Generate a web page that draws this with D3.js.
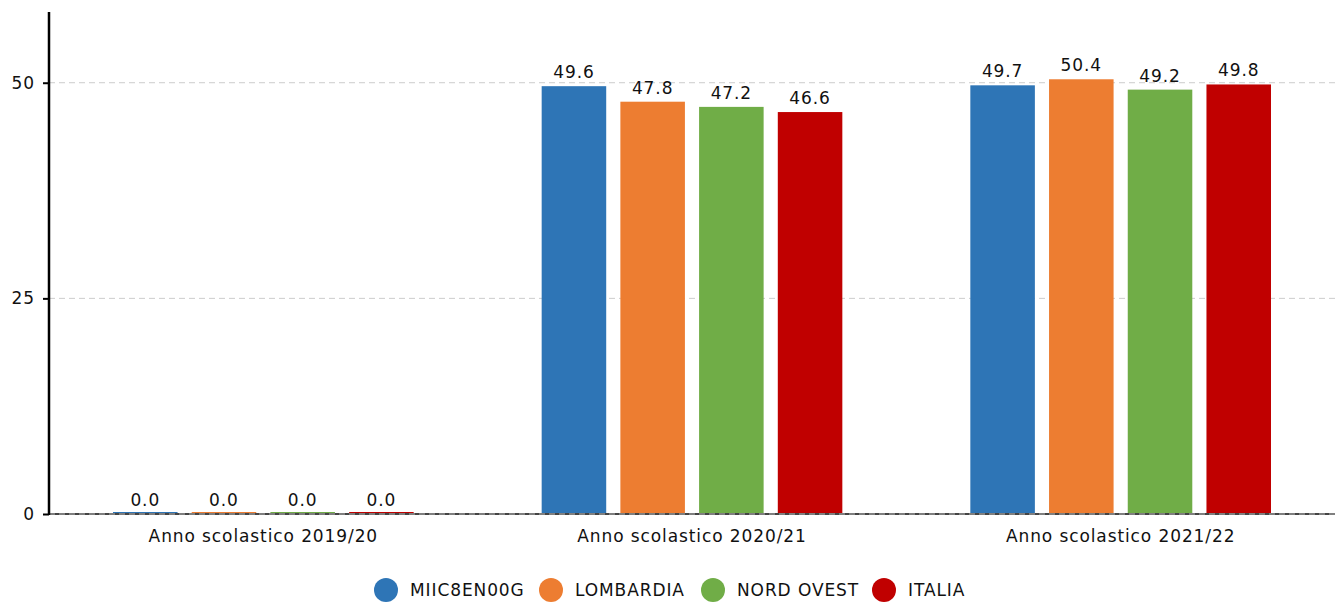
<!DOCTYPE html>
<html><head><meta charset="utf-8">
<script src="https://cdn.jsdelivr.net/npm/d3@7"></script>
<style>body{margin:0;background:#fff}svg{display:block}text{font-family:"DejaVu Sans",sans-serif}</style>
</head><body><svg id="c" width="1335" height="602"></svg>
<script>
const categories = ["Anno scolastico 2019/20","Anno scolastico 2020/21","Anno scolastico 2021/22"];
const seriesNames = ["MIIC8EN00G","LOMBARDIA","NORD OVEST","ITALIA"];
const seriesColors = ["#2e75b6","#ed7d31","#70ad47","#c00000"];
const MIIC8EN00G = [0.0, 49.6, 49.7];
const LOMBARDIA = [0.0, 47.8, 50.4];
const NORD_OVEST = [0.0, 47.2, 49.2];
const ITALIA = [0.0, 46.6, 49.8];
const yTicks = [0, 25, 50];
const values = [MIIC8EN00G, LOMBARDIA, NORD_OVEST, ITALIA];

const FS = 17, LS = "0.9px";
const svg = d3.select("#c");
const mLeft = 49, mRight = 1335, mTop = 12, mBottom = 514;
const y = d3.scaleLinear().domain([0, 58.2]).range([mBottom, mTop]);
const x0 = d3.scaleBand().domain(categories).range([mLeft, mRight]).padding(0);
const x1 = d3.scaleBand().domain(seriesNames).range([64, x0.bandwidth() - 64]).paddingInner(0.18);

// grid
svg.append("g").selectAll("line").data(yTicks.filter(d => d > 0)).join("line")
  .attr("x1", mLeft).attr("x2", mRight).attr("y1", d => y(d)).attr("y2", d => y(d))
  .attr("stroke", "#cccccc").attr("stroke-width", 1).attr("stroke-dasharray", "6,4");

// bars
const g = svg.append("g");
categories.forEach((c, ci) => {
  seriesNames.forEach((s, si) => {
    const v = values[si][ci];
    const bx = x0(c) + x1(s);
    const h = Math.max(mBottom - y(v), 2);
    g.append("rect").attr("x", bx).attr("y", mBottom - h).attr("width", x1.bandwidth()).attr("height", h)
      .attr("fill", seriesColors[si]);
    g.append("text").attr("x", bx + x1.bandwidth() / 2).attr("y", y(v) - 8)
      .attr("text-anchor", "middle").attr("font-size", FS).attr("letter-spacing", LS).attr("fill", "#111")
      .text(v.toFixed(1));
  });
});

// baseline
svg.append("line").attr("x1", mLeft).attr("x2", mRight).attr("y1", mBottom).attr("y2", mBottom)
  .attr("stroke", "#444").attr("stroke-width", 2);
svg.append("line").attr("x1", mLeft).attr("x2", mRight).attr("y1", mBottom).attr("y2", mBottom)
  .attr("stroke", "#bbbbbb").attr("stroke-width", 1).attr("stroke-dasharray", "6,4");

// y axis
const ya = svg.append("g").attr("transform", `translate(${mLeft},0)`)
  .call(d3.axisLeft(y).tickValues(yTicks).tickSize(6).tickPadding(8).tickFormat(d3.format("d")));
ya.select(".domain").attr("stroke", "#000").attr("stroke-width", 2.5).attr("d", `M0,${mTop}V${mBottom + 1}`);
ya.selectAll(".tick line").attr("stroke", "#000").attr("stroke-width", 2);
ya.selectAll(".tick text").attr("font-size", FS).attr("letter-spacing", LS).attr("fill", "#111").attr("font-family", '"DejaVu Sans",sans-serif');

// x axis labels
const xa = svg.append("g").attr("transform", `translate(0,${mBottom})`)
  .call(d3.axisBottom(x0).tickSize(0).tickPadding(16));
xa.select(".domain").remove();
xa.selectAll(".tick text").attr("font-size", FS).attr("letter-spacing", LS).attr("fill", "#111").attr("font-family", '"DejaVu Sans",sans-serif');

// legend
const legX = [386, 551, 713, 884];
const lg = svg.append("g");
seriesNames.forEach((s, i) => {
  lg.append("circle").attr("cx", legX[i]).attr("cy", 590).attr("r", 12).attr("fill", seriesColors[i]);
  lg.append("text").attr("x", legX[i] + 24).attr("y", 590).attr("dy", "0.35em")
    .attr("font-size", FS).attr("letter-spacing", LS).attr("fill", "#111").text(s);
});
</script></body></html>
